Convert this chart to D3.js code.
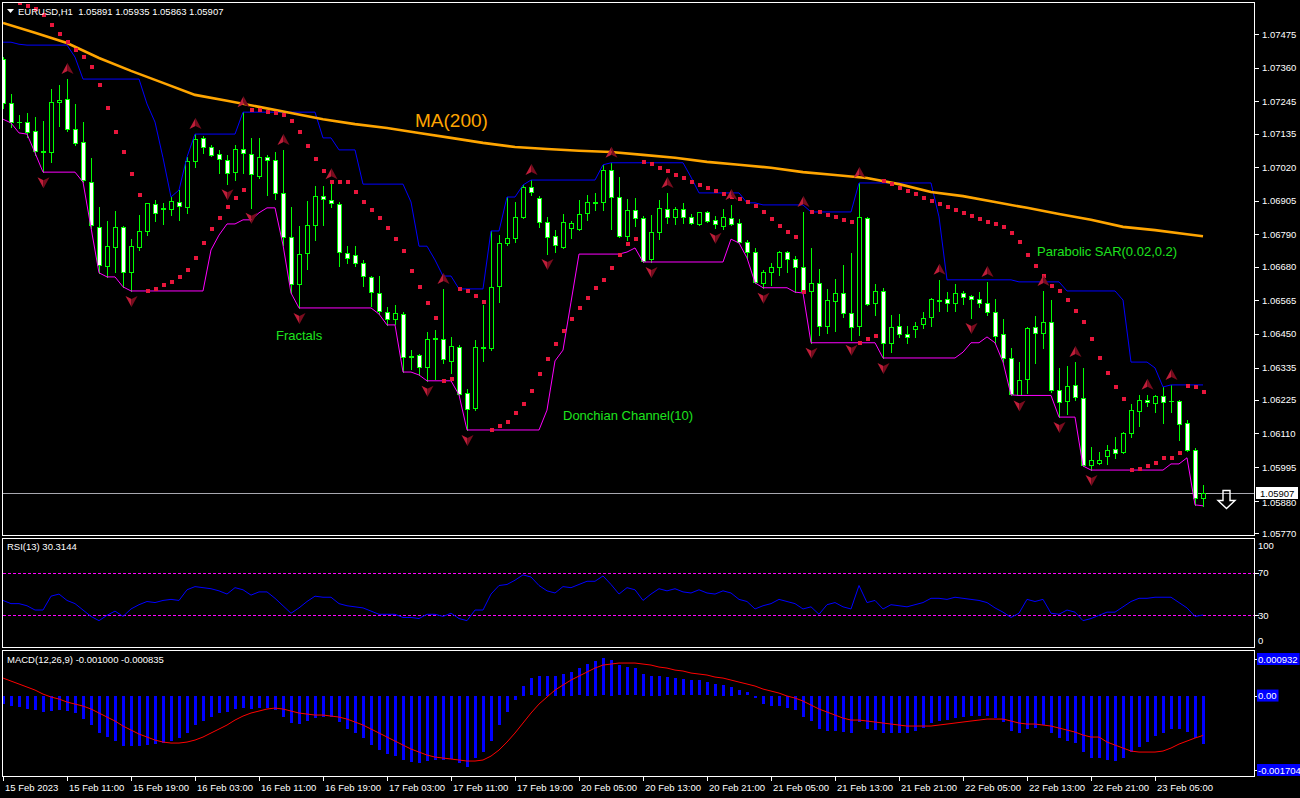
<!DOCTYPE html>
<html><head><meta charset="utf-8">
<script src="https://cdn.jsdelivr.net/npm/d3@7"></script>
<style>body{margin:0;background:#000;overflow:hidden}svg{display:block}</style>
</head><body>
<svg id="c" width="1300" height="798"></svg>
<script>
const timeLabels = ["15 Feb 2023","15 Feb 11:00","15 Feb 19:00","16 Feb 03:00","16 Feb 11:00","16 Feb 19:00","17 Feb 03:00","17 Feb 11:00","17 Feb 19:00","20 Feb 05:00","20 Feb 13:00","20 Feb 21:00","21 Feb 05:00","21 Feb 13:00","21 Feb 21:00","22 Feb 05:00","22 Feb 13:00","22 Feb 21:00","23 Feb 05:00"];
const priceTicks = [1.07475,1.07360,1.07245,1.07135,1.07020,1.06905,1.06790,1.06680,1.06565,1.06450,1.06335,1.06225,1.06110,1.05995,1.05880,1.05770];
const rsiTicks = [100,70,30,0];
const rsiLevels = [70,30];
const macdTicks = [0.000932,0,-0.001704];

const open = [1.07389,1.07240,1.07174,1.07174,1.07144,1.07072,1.07072,1.07243,1.07253,1.07150,
1.07106,1.06969,1.06816,1.06682,1.06747,1.06816,1.06662,1.06747,1.06802,1.06894,
1.06877,1.06877,1.06901,1.06884,1.07042,1.07120,1.07089,1.07065,1.07045,1.07003,
1.07082,1.07065,1.06989,1.07055,1.07045,1.06932,1.06781,1.06621,1.06727,1.06823,
1.06921,1.06908,1.06894,1.06727,1.06720,1.06693,1.06645,1.06590,1.06525,1.06501,
1.06518,1.06374,1.06378,1.06337,1.06435,1.06433,1.06358,1.06406,1.06249,1.06198,
1.06403,1.06403,1.06614,1.06761,1.06778,1.06850,1.06952,1.06915,1.06833,1.06784,
1.06747,1.06813,1.06809,1.06864,1.06898,1.06901,1.07010,1.06918,1.06784,1.06874,
1.06847,1.06706,1.06798,1.06877,1.06850,1.06877,1.06850,1.06826,1.06867,1.06840,
1.06819,1.06847,1.06830,1.06764,1.06730,1.06625,1.06662,1.06679,1.06730,1.06706,
1.06679,1.06597,1.06625,1.06477,1.06563,1.06590,1.06522,1.06477,1.06847,1.06556,
1.06597,1.06420,1.06477,1.06450,1.06467,1.06484,1.06508,1.06566,1.06569,1.06556,
1.06590,1.06580,1.06569,1.06556,1.06525,1.06450,1.06368,1.06242,1.06296,1.06474,
1.06454,1.06491,1.06259,1.06221,1.06276,1.06232,1.06003,1.06010,1.06034,1.06057,
1.06047,1.06112,1.06187,1.06225,1.06214,1.06239,1.06221,1.06221,1.06146,1.06054,
1.05891];
const high = [1.07396,1.07270,1.07198,1.07205,1.07191,1.07178,1.07287,1.07301,1.07321,1.07236,
1.07174,1.07052,1.06884,1.06837,1.06871,1.06818,1.06774,1.06857,1.06898,1.06908,
1.06898,1.06918,1.06942,1.07055,1.07133,1.07126,1.07096,1.07079,1.07062,1.07096,
1.07208,1.07120,1.07120,1.07062,1.07072,1.07079,1.06884,1.06819,1.06905,1.06955,
1.06955,1.06962,1.06901,1.06750,1.06750,1.06703,1.06648,1.06648,1.06542,1.06549,
1.06525,1.06395,1.06381,1.06457,1.06464,1.06604,1.06440,1.06413,1.06262,1.06430,
1.06549,1.06802,1.06788,1.06918,1.06901,1.06959,1.06976,1.06921,1.06850,1.06805,
1.06860,1.06837,1.06908,1.06925,1.06932,1.07028,1.07035,1.06986,1.06911,1.06915,
1.06853,1.06857,1.06908,1.06932,1.06884,1.06898,1.06860,1.06867,1.06871,1.06853,
1.06877,1.06891,1.06843,1.06771,1.06744,1.06669,1.06693,1.06734,1.06734,1.06716,
1.06867,1.06744,1.06672,1.06604,1.06638,1.06686,1.06727,1.06966,1.06850,1.06621,
1.06608,1.06515,1.06518,1.06477,1.06491,1.06525,1.06573,1.06635,1.06593,1.06621,
1.06597,1.06583,1.06593,1.06628,1.06569,1.06501,1.06402,1.06354,1.06474,1.06511,
1.06597,1.06566,1.06334,1.06340,1.06354,1.06334,1.06064,1.06047,1.06071,1.06098,
1.06115,1.06211,1.06242,1.06242,1.06242,1.06269,1.06276,1.06225,1.06156,1.06061,
1.05935];
const low = [1.07223,1.07157,1.07154,1.07123,1.07062,1.07003,1.07038,1.07160,1.07144,1.07096,
1.06969,1.06813,1.06659,1.06645,1.06662,1.06611,1.06597,1.06737,1.06788,1.06837,
1.06826,1.06857,1.06840,1.06864,1.07021,1.07069,1.07058,1.07000,1.06962,1.06976,
1.07000,1.06881,1.06983,1.06925,1.06911,1.06754,1.06590,1.06539,1.06672,1.06771,
1.06823,1.06884,1.06682,1.06693,1.06682,1.06614,1.06545,1.06518,1.06481,1.06484,
1.06320,1.06330,1.06310,1.06290,1.06296,1.06351,1.06317,1.06242,1.06122,1.06190,
1.06358,1.06395,1.06559,1.06754,1.06764,1.06847,1.06925,1.06816,1.06723,1.06730,
1.06744,1.06778,1.06805,1.06840,1.06874,1.06874,1.06809,1.06781,1.06771,1.06819,
1.06696,1.06696,1.06774,1.06830,1.06826,1.06830,1.06826,1.06823,1.06833,1.06813,
1.06809,1.06823,1.06761,1.06710,1.06625,1.06608,1.06618,1.06652,1.06662,1.06593,
1.06590,1.06420,1.06447,1.06454,1.06461,1.06508,1.06430,1.06447,1.06549,1.06515,
1.06368,1.06388,1.06440,1.06420,1.06440,1.06471,1.06477,1.06529,1.06529,1.06529,
1.06552,1.06505,1.06542,1.06515,1.06420,1.06354,1.06242,1.06240,1.06249,1.06351,
1.06403,1.06252,1.06166,1.06177,1.06225,1.05999,1.05985,1.06006,1.06006,1.06027,
1.06044,1.06098,1.06136,1.06204,1.06183,1.06146,1.06183,1.06088,1.06051,1.05866,
1.05863];
const close = [1.07240,1.07174,1.07173,1.07140,1.07076,1.07076,1.07243,1.07250,1.07150,1.07103,
1.06976,1.06823,1.06686,1.06750,1.06816,1.06662,1.06750,1.06802,1.06898,1.06864,
1.06879,1.06905,1.06887,1.07042,1.07116,1.07089,1.07062,1.07048,1.07000,1.07082,
1.07069,1.06996,1.07055,1.07045,1.06932,1.06781,1.06621,1.06723,1.06823,1.06921,
1.06911,1.06898,1.06730,1.06710,1.06693,1.06648,1.06593,1.06529,1.06501,1.06522,
1.06371,1.06372,1.06337,1.06433,1.06433,1.06364,1.06409,1.06245,1.06194,1.06406,
1.06406,1.06611,1.06761,1.06778,1.06850,1.06952,1.06935,1.06833,1.06781,1.06754,
1.06833,1.06830,1.06860,1.06901,1.06901,1.07010,1.06918,1.06784,1.06874,1.06847,
1.06700,1.06798,1.06881,1.06850,1.06877,1.06850,1.06830,1.06867,1.06837,1.06826,
1.06850,1.06826,1.06764,1.06730,1.06628,1.06662,1.06679,1.06730,1.06706,1.06679,
1.06597,1.06625,1.06477,1.06566,1.06590,1.06522,1.06474,1.06850,1.06552,1.06597,
1.06420,1.06474,1.06450,1.06440,1.06477,1.06505,1.06569,1.06564,1.06556,1.06590,
1.06576,1.06569,1.06556,1.06525,1.06443,1.06368,1.06245,1.06293,1.06471,1.06454,
1.06491,1.06259,1.06218,1.06272,1.06235,1.06003,1.06020,1.06020,1.06054,1.06044,
1.06112,1.06190,1.06225,1.06218,1.06239,1.06218,1.06220,1.06143,1.06054,1.05890,
1.05907];

const sar = [1.07595,1.07588,1.07581,1.07571,1.07560,1.07540,1.07506,1.07475,1.07447,1.07420,
1.07396,1.07362,1.07301,1.07223,1.07140,1.07072,1.06996,1.06925,1.06597,1.06604,
1.06618,1.06628,1.06645,1.06669,1.06710,1.06761,1.06809,1.06847,1.06884,1.06915,
1.06942,1.07215,1.07215,1.07208,1.07205,1.07198,1.07178,1.07140,1.07092,1.07048,
1.07007,1.06969,1.06969,1.06969,1.06935,1.06901,1.06874,1.06847,1.06813,1.06774,
1.06734,1.06666,1.06611,1.06556,1.06505,1.06290,1.06296,1.06604,1.06597,1.06580,
1.06559,1.06122,1.06136,1.06149,1.06180,1.06211,1.06255,1.06313,1.06364,1.06416,
1.06461,1.06501,1.06539,1.06573,1.06608,1.06635,1.06676,1.06720,1.06757,1.06774,
1.07038,1.07031,1.07017,1.07007,1.06993,1.06983,1.06969,1.06959,1.06949,1.06938,
1.06928,1.06918,1.06911,1.06901,1.06887,1.06867,1.06843,1.06819,1.06798,1.06781,
1.06593,1.06867,1.06867,1.06857,1.06850,1.06840,1.06833,1.06420,1.06433,1.06443,
1.06973,1.06962,1.06949,1.06938,1.06928,1.06915,1.06905,1.06894,1.06884,1.06874,
1.06864,1.06853,1.06843,1.06833,1.06826,1.06816,1.06795,1.06764,1.06720,1.06682,
1.06648,1.06614,1.06597,1.06566,1.06529,1.06491,1.06433,1.06368,1.06317,1.06269,
1.06228,1.05985,1.05988,1.05999,1.06010,1.06027,1.06027,1.06044,1.06272,1.06269,
1.06252];

const maIndex = [0,4,8,12,16,20,24,28,32,36,40,44,48,52,56,60,64,68,72,76,80,84,88,92,96,100,104,108,112,116,120,124,128,132,136,140,144,148,150];
const maValue = [1.07513,1.07479,1.07444,1.07393,1.07349,1.07308,1.07267,1.07247,1.07226,1.07205,1.07184,1.07167,1.07154,1.07137,1.07120,1.07103,1.07089,1.07082,1.07076,1.07072,1.07062,1.07052,1.07038,1.07028,1.07018,1.07003,1.06993,1.06983,1.06962,1.06935,1.06921,1.06901,1.06881,1.06860,1.06840,1.06816,1.06805,1.06791,1.06784];

const dcUpperStart = [1.07447,1.07447,1.07440,1.07437,1.07437,1.07437,1.07437,1.07437,1.07437];
const dcLowerStart = [1.07184,1.07171,1.07137,1.07133,1.07069,1.07003,1.07003,1.07003,1.07003];

const fractalUp = [8,24,30,35,41,55,66,76,83,91,100,107,117,123,130,134,143,146];
const fractalDown = [5,16,28,31,37,53,58,68,81,89,95,101,106,110,121,127,132,136];

const rsi = [44,41,41,39,35,35,48,50,44,41,35,29,25,30,34,29,36,40,43,42,
44,45,44,54,57,56,55,53,50,56,54,49,52,52,46,39,32,37,43,48,
47,47,41,39,38,37,34,31,31,31,28,28,27,31,31,29,32,27,25,35,
35,50,58,59,63,68,66,58,53,51,57,56,59,62,62,67,59,50,56,54,
44,50,55,53,55,52,51,54,51,50,53,51,45,43,36,39,41,45,43,41,
36,38,31,40,42,38,36,58,42,44,36,40,39,38,40,42,46,46,45,47,
46,45,44,42,37,33,28,32,45,43,45,32,31,35,33,25,27,30,33,33,
38,43,46,46,47,47,47,42,37,29,30.3144];

const macdHist = [-0.000157,-0.000199,-0.000220,-0.000262,-0.000303,-0.000345,-0.000324,-0.000303,-0.000324,-0.000366,
-0.000471,-0.000617,-0.000784,-0.000868,-0.000931,-0.001036,-0.001056,-0.001056,-0.001015,-0.000994,
-0.000973,-0.000931,-0.000889,-0.000764,-0.000617,-0.000513,-0.000429,-0.000366,-0.000345,-0.000282,
-0.000241,-0.000262,-0.000241,-0.000241,-0.000303,-0.000429,-0.000575,-0.000596,-0.000533,-0.000450,
-0.000429,-0.000429,-0.000554,-0.000680,-0.000784,-0.000889,-0.001015,-0.001140,-0.001203,-0.001245,
-0.001349,-0.001391,-0.001412,-0.001370,-0.001349,-0.001349,-0.001328,-0.001412,-0.001475,-0.001307,
-0.001182,-0.000931,-0.000617,-0.000345,-0.000094,0.000199,0.000366,0.000408,0.000408,0.000408,
0.000450,0.000492,0.000575,0.000659,0.000722,0.000784,0.000743,0.000638,0.000596,0.000575,
0.000450,0.000408,0.000408,0.000387,0.000366,0.000345,0.000324,0.000324,0.000282,0.000241,
0.000220,0.000178,0.000115,0.000073,-0.000052,-0.000157,-0.000199,-0.000199,-0.000241,-0.000303,
-0.000429,-0.000513,-0.000680,-0.000722,-0.000722,-0.000743,-0.000764,-0.000554,-0.000680,-0.000701,
-0.000784,-0.000784,-0.000784,-0.000764,-0.000722,-0.000659,-0.000575,-0.000513,-0.000492,-0.000450,
-0.000429,-0.000408,-0.000408,-0.000408,-0.000450,-0.000554,-0.000722,-0.000784,-0.000680,-0.000659,
-0.000617,-0.000784,-0.000889,-0.000931,-0.000973,-0.001182,-0.001287,-0.001307,-0.001349,-0.001370,
-0.001307,-0.001182,-0.001077,-0.000952,-0.000847,-0.000764,-0.000680,-0.000680,-0.000743,-0.000889,
-0.001000];
const macdSignal = [0.000366,0.000303,0.000241,0.000178,0.000115,0.000031,-0.000031,-0.000073,-0.000136,-0.000178,
-0.000220,-0.000282,-0.000366,-0.000450,-0.000533,-0.000638,-0.000722,-0.000805,-0.000868,-0.000931,
-0.000973,-0.000994,-0.000994,-0.000973,-0.000931,-0.000868,-0.000784,-0.000701,-0.000617,-0.000513,
-0.000429,-0.000366,-0.000324,-0.000282,-0.000262,-0.000282,-0.000324,-0.000366,-0.000387,-0.000408,
-0.000408,-0.000429,-0.000450,-0.000492,-0.000554,-0.000617,-0.000701,-0.000784,-0.000868,-0.000952,
-0.001036,-0.001119,-0.001182,-0.001245,-0.001287,-0.001307,-0.001328,-0.001349,-0.001370,-0.001370,
-0.001349,-0.001266,-0.001140,-0.000973,-0.000784,-0.000575,-0.000366,-0.000178,-0.000031,0.000115,
0.000220,0.000324,0.000408,0.000492,0.000575,0.000638,0.000659,0.000680,0.000680,0.000680,
0.000659,0.000638,0.000596,0.000575,0.000533,0.000513,0.000471,0.000450,0.000429,0.000387,
0.000366,0.000324,0.000282,0.000241,0.000199,0.000136,0.000094,0.000052,-0.000010,-0.000052,
-0.000115,-0.000199,-0.000282,-0.000345,-0.000408,-0.000471,-0.000513,-0.000513,-0.000533,-0.000554,
-0.000575,-0.000596,-0.000617,-0.000638,-0.000638,-0.000638,-0.000638,-0.000617,-0.000596,-0.000575,
-0.000554,-0.000533,-0.000513,-0.000492,-0.000492,-0.000492,-0.000533,-0.000575,-0.000596,-0.000596,
-0.000617,-0.000638,-0.000680,-0.000722,-0.000764,-0.000826,-0.000868,-0.000868,-0.000973,-0.001036,
-0.001098,-0.001161,-0.001182,-0.001182,-0.001182,-0.001161,-0.001098,-0.001015,-0.000952,-0.000889,
-0.000835];

const lastPrice = 1.05907;

// ---------- drawing ----------
const svg = d3.select('#c');
const FONT = "'Liberation Sans', Arial, sans-serif";
const n = close.length;
const x = d3.scaleLinear().domain([0, n - 1]).range([3, 1203]);
const y = d3.scaleLinear().domain([1.05770, 1.07475]).range([533, 34]);
const yR = d3.scaleLinear().domain([0, 100]).range([647.3, 540.8]);
const yM = d3.scaleLinear().domain([-0.001704, 0.000932]).range([777, 651]);
const px = v => Math.round(v) + 0.5;

svg.append('rect').attr('width', 1300).attr('height', 798).attr('fill', '#000');

const defs = svg.append('defs');
defs.append('clipPath').attr('id', 'clipMain').append('rect').attr('x', 3).attr('y', 3).attr('width', 1251).attr('height', 532);
defs.append('clipPath').attr('id', 'clipRsi').append('rect').attr('x', 3).attr('y', 539).attr('width', 1251).attr('height', 108);
defs.append('clipPath').attr('id', 'clipMacd').append('rect').attr('x', 3).attr('y', 651).attr('width', 1251).attr('height', 125);

// Donchian channel (10) from highs / lows
const dcUpper = high.map((_, i) => i < dcUpperStart.length ? dcUpperStart[i] : d3.max(high.slice(i - 9, i + 1)));
const dcLower = low.map((_, i) => i < dcLowerStart.length ? dcLowerStart[i] : d3.min(low.slice(i - 9, i + 1)));

const gMain = svg.append('g').attr('clip-path', 'url(#clipMain)');

// current price line
gMain.append('line').attr('x1', 2).attr('x2', 1255).attr('y1', px(y(lastPrice))).attr('y2', px(y(lastPrice)))
  .attr('stroke', '#a8a8b0').attr('stroke-width', 1);

// candles
const gC = gMain.append('g');
d3.range(n).forEach(i => {
  const cx = Math.round(x(i));
  gC.append('line').attr('x1', cx + 0.5).attr('x2', cx + 0.5)
    .attr('y1', Math.round(y(high[i]))).attr('y2', Math.round(y(low[i])) + 1)
    .attr('stroke', '#00ff00').attr('stroke-width', 1);
  const yo = Math.round(y(open[i])), yc = Math.round(y(close[i]));
  const top = Math.min(yo, yc), bot = Math.max(yo, yc);
  if (bot - top < 1) {
    gC.append('line').attr('x1', cx - 2).attr('x2', cx + 3).attr('y1', top + 0.5).attr('y2', top + 0.5)
      .attr('stroke', '#00ff00').attr('stroke-width', 1);
  } else {
    gC.append('rect').attr('x', cx - 1.5).attr('y', top + 0.5).attr('width', 4).attr('height', bot - top)
      .attr('fill', close[i] < open[i] ? '#ffffff' : '#000000').attr('stroke', '#00ff00').attr('stroke-width', 1);
  }
});

const line = d3.line().x((d, i) => x(i)).y(d => y(d));
gMain.append('path').attr('d', line(dcUpper)).attr('fill', 'none').attr('stroke', '#0000ff').attr('stroke-width', 1);
gMain.append('path').attr('d', line(dcLower)).attr('fill', 'none').attr('stroke', '#ff00ff').attr('stroke-width', 1);

// MA(200)
const maLine = d3.line().x(d => x(d[0])).y(d => y(d[1]));
gMain.append('path').attr('d', maLine(maIndex.map((k, j) => [k, maValue[j]])))
  .attr('fill', 'none').attr('stroke', '#ffa500').attr('stroke-width', 2.6);

// Parabolic SAR
gMain.append('g').selectAll('rect').data(sar).join('rect')
  .attr('x', (d, i) => Math.round(x(i)) - 1).attr('y', d => Math.round(y(d)) - 2)
  .attr('width', 4).attr('height', 4).attr('fill', '#e8163c');

// Fractals (3D-looking arrowheads)
const gF = gMain.append('g');
function arrow(cx, cy, dir) {
  const s = dir; // -1 up, +1 down
  gF.append('path').attr('d', `M${cx},${cy + 6 * s} L${cx - 6},${cy - 5 * s} L${cx},${cy - 2 * s} Z`).attr('fill', '#c01e3a');
  gF.append('path').attr('d', `M${cx},${cy + 6 * s} L${cx + 6},${cy - 5 * s} L${cx},${cy - 2 * s} Z`).attr('fill', '#7a0c1e');
}
fractalUp.forEach(i => arrow(x(i) + 0.5, y(high[i]) - 10, -1));
fractalDown.forEach(i => arrow(x(i) + 0.5, y(low[i]) + 10, 1));

// annotations
svg.append('text').attr('x', 415).attr('y', 127).text('MA(200)').attr('fill', '#ffa500')
  .attr('font-family', FONT).attr('font-size', 19);
const green = '#1ee41e';
[[276, 340, 'Fractals'], [563, 420, 'Donchian Channel(10)'], [1037, 256, 'Parabolic SAR(0.02,0.2)']].forEach(t => {
  svg.append('text').attr('x', t[0]).attr('y', t[1]).text(t[2]).attr('fill', green)
    .attr('font-family', FONT).attr('font-size', 13);
});

// sell arrow
svg.append('path').attr('d', 'M1223,490.5 L1230,490.5 L1230,500.5 L1235,500.5 L1226.5,508.5 L1218,500.5 L1223,500.5 Z')
  .attr('fill', 'none').attr('stroke', '#ffffff').attr('stroke-width', 1.4);

// ---------- RSI ----------
const gR = svg.append('g').attr('clip-path', 'url(#clipRsi)');
rsiLevels.forEach(v => {
  gR.append('line').attr('x1', 3).attr('x2', 1254).attr('y1', px(yR(v))).attr('y2', px(yR(v)))
    .attr('stroke', '#ff00ff').attr('stroke-dasharray', '3,2').attr('stroke-width', 1);
});
gR.append('path').attr('d', d3.line().x((d, i) => x(i)).y(d => yR(d))(rsi))
  .attr('fill', 'none').attr('stroke', '#0000ff').attr('stroke-width', 1);

// ---------- MACD ----------
const gM = svg.append('g').attr('clip-path', 'url(#clipMacd)');
gM.selectAll('rect').data(macdHist).join('rect')
  .attr('x', (d, i) => Math.round(x(i)) - 1).attr('width', 3)
  .attr('y', d => Math.round(Math.min(yM(0), yM(d))))
  .attr('height', d => Math.max(1, Math.round(Math.abs(yM(d) - yM(0)))))
  .attr('fill', '#0000ff');
gM.append('path').attr('d', d3.line().x((d, i) => x(i)).y(d => yM(d))(macdSignal))
  .attr('fill', 'none').attr('stroke', '#ff0000').attr('stroke-width', 1);

// ---------- frames ----------
[[2.5, 535.5], [538.5, 647.5], [650.5, 776.5]].forEach(f => {
  svg.append('rect').attr('x', 2.5).attr('y', f[0]).attr('width', 1252).attr('height', f[1] - f[0])
    .attr('fill', 'none').attr('stroke', '#ffffff').attr('stroke-width', 1);
});

// ---------- axes ----------
const axisText = (sel) => sel.attr('font-family', FONT).attr('font-size', 9.5).attr('fill', '#ffffff');
priceTicks.forEach(v => {
  svg.append('line').attr('x1', 1255).attr('x2', 1259).attr('y1', px(y(v))).attr('y2', px(y(v))).attr('stroke', '#fff');
  svg.append('text').attr('x', 1262).attr('y', y(v) + 3.5 + (v === 1.05880 ? 2 : 0)).text(v.toFixed(5)).call(axisText);
});
// current price label
const yl = Math.round(y(lastPrice));
svg.append('rect').attr('x', 1256).attr('y', yl - 6).attr('width', 42).attr('height', 12).attr('fill', '#ffffff');
svg.append('text').attr('x', 1260).attr('y', yl + 4).text(lastPrice.toFixed(5)).call(axisText).attr('fill', '#000000');

// RSI axis
rsiTicks.forEach(v => {
  let ty = yR(v) + 3.5;
  if (v === 100) ty = yR(v) + 8.5;
  if (v === 0) ty = yR(v) - 3;
  if (v === 70 || v === 30) svg.append('line').attr('x1', 1255).attr('x2', 1259).attr('y1', px(yR(v))).attr('y2', px(yR(v))).attr('stroke', '#fff');
  svg.append('text').attr('x', 1258).attr('y', ty).text(v).call(axisText);
});

// MACD axis
macdTicks.forEach(v => {
  let cy = yM(v);
  if (v > 0) cy = yM(v) + 8;
  if (v < -0.0015) cy = yM(v) - 7;
  const label = v === 0 ? '0.00' : v.toFixed(6);
  svg.append('line').attr('x1', 1255).attr('x2', 1259).attr('y1', px(cy)).attr('y2', px(cy)).attr('stroke', '#fff');
  const t = svg.append('text').attr('x', 1258).attr('y', cy + 3.5).text(label).call(axisText);
  const w = t.node().getComputedTextLength();
  svg.insert('rect', 'text:last-of-type').attr('x', 1257).attr('y', cy - 6).attr('width', w + 3).attr('height', 12).attr('fill', '#0000ff');
  t.raise();
});

// time axis
timeLabels.forEach((lab, k) => {
  const tx = Math.round(x(k * 8));
  svg.append('line').attr('x1', tx + 0.5).attr('x2', tx + 0.5).attr('y1', 777).attr('y2', 781).attr('stroke', '#fff');
  svg.append('text').attr('x', tx + 2).attr('y', 791).text(lab).call(axisText);
});

// headers
svg.append('path').attr('d', 'M7,9 L14,9 L10.5,13 Z').attr('fill', '#ffffff');
svg.append('text').attr('x', 18).attr('y', 15).text('EURUSD,H1  1.05891 1.05935 1.05863 1.05907').call(axisText).style('white-space', 'pre');
svg.append('text').attr('x', 7).attr('y', 550).text('RSI(13) 30.3144').call(axisText);
svg.append('text').attr('x', 7).attr('y', 663).text('MACD(12,26,9) -0.001000 -0.000835').call(axisText);
</script>
</body></html>
